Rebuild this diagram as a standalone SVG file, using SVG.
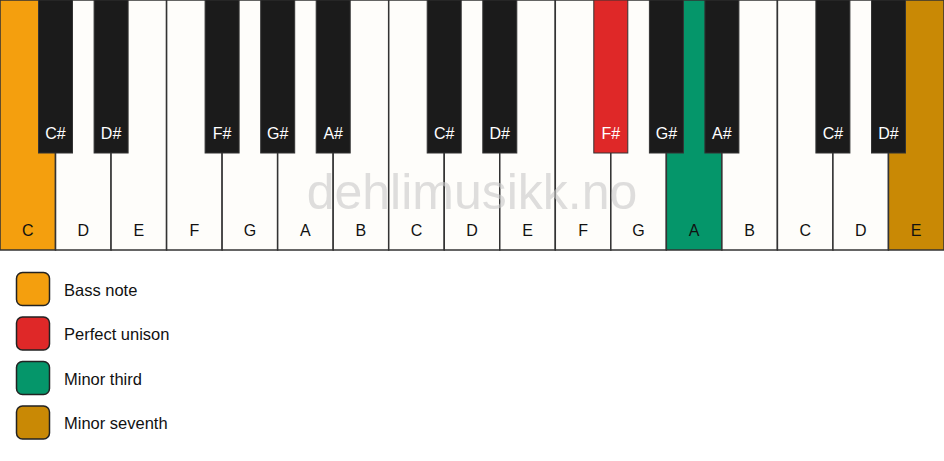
<svg xmlns="http://www.w3.org/2000/svg" width="944" height="461" viewBox="0 0 944 461">
<style>
.w{fill:#fefdfa;stroke:#333;stroke-width:1.5}
.b{fill:#1b1b1b;stroke:#333;stroke-width:1}
.wl{font-family:"Liberation Sans",Arial,sans-serif;font-size:16px;fill:#111;text-anchor:middle}
.bl{font-family:"Liberation Sans",Arial,sans-serif;font-size:16px;fill:#fff;text-anchor:middle}
.lg{font-family:"Liberation Sans",Arial,sans-serif;font-size:16.5px;fill:#111}
.sw{stroke:#222;stroke-width:1.5}
</style>
<rect width="944" height="461" fill="#ffffff"/>
<g id="white-keys">
<rect class="w" x="0" y="0" width="55.53" height="250" style="fill:#f49f0e"/>
<rect class="w" x="55.53" y="0" width="55.53" height="250"/>
<rect class="w" x="111.06" y="0" width="55.53" height="250"/>
<rect class="w" x="166.59" y="0" width="55.53" height="250"/>
<rect class="w" x="222.12" y="0" width="55.53" height="250"/>
<rect class="w" x="277.65" y="0" width="55.53" height="250"/>
<rect class="w" x="333.18" y="0" width="55.53" height="250"/>
<rect class="w" x="388.71" y="0" width="55.53" height="250"/>
<rect class="w" x="444.24" y="0" width="55.53" height="250"/>
<rect class="w" x="499.76" y="0" width="55.53" height="250"/>
<rect class="w" x="555.29" y="0" width="55.53" height="250"/>
<rect class="w" x="610.82" y="0" width="55.53" height="250"/>
<rect class="w" x="666.35" y="0" width="55.53" height="250" style="fill:#05966a"/>
<rect class="w" x="721.88" y="0" width="55.53" height="250"/>
<rect class="w" x="777.41" y="0" width="55.53" height="250"/>
<rect class="w" x="832.94" y="0" width="55.53" height="250"/>
<rect class="w" x="888.47" y="0" width="55.53" height="250" style="fill:#c98905"/>
</g>
<text x="472" y="209" font-family="'Liberation Sans',Arial,sans-serif" font-size="50" fill="#c8c8c8" fill-opacity="0.6" text-anchor="middle">dehlimusikk.no</text>
<g id="white-labels">
<text class="wl" x="27.8" y="236">C</text>
<text class="wl" x="83.3" y="236">D</text>
<text class="wl" x="138.8" y="236">E</text>
<text class="wl" x="194.4" y="236">F</text>
<text class="wl" x="249.9" y="236">G</text>
<text class="wl" x="305.4" y="236">A</text>
<text class="wl" x="360.9" y="236">B</text>
<text class="wl" x="416.5" y="236">C</text>
<text class="wl" x="472" y="236">D</text>
<text class="wl" x="527.5" y="236">E</text>
<text class="wl" x="583.1" y="236">F</text>
<text class="wl" x="638.6" y="236">G</text>
<text class="wl" x="694.1" y="236">A</text>
<text class="wl" x="749.6" y="236">B</text>
<text class="wl" x="805.2" y="236">C</text>
<text class="wl" x="860.7" y="236">D</text>
<text class="wl" x="916.2" y="236">E</text>
</g>
<g id="black-keys">
<rect class="b" x="38.5" y="0" width="34" height="153"/>
<rect class="b" x="94.1" y="0" width="34" height="153"/>
<rect class="b" x="205.1" y="0" width="34" height="153"/>
<rect class="b" x="260.7" y="0" width="34" height="153"/>
<rect class="b" x="316.2" y="0" width="34" height="153"/>
<rect class="b" x="427.2" y="0" width="34" height="153"/>
<rect class="b" x="482.8" y="0" width="34" height="153"/>
<rect class="b" x="593.8" y="0" width="34" height="153" style="fill:#df2828"/>
<rect class="b" x="649.4" y="0" width="34" height="153"/>
<rect class="b" x="704.9" y="0" width="34" height="153"/>
<rect class="b" x="815.9" y="0" width="34" height="153"/>
<rect class="b" x="871.5" y="0" width="34" height="153"/>
</g>
<g id="black-labels">
<text class="bl" x="55.5" y="139">C#</text>
<text class="bl" x="111.1" y="139">D#</text>
<text class="bl" x="222.1" y="139">F#</text>
<text class="bl" x="277.7" y="139">G#</text>
<text class="bl" x="333.2" y="139">A#</text>
<text class="bl" x="444.2" y="139">C#</text>
<text class="bl" x="499.8" y="139">D#</text>
<text class="bl" x="610.8" y="139">F#</text>
<text class="bl" x="666.4" y="139">G#</text>
<text class="bl" x="721.9" y="139">A#</text>
<text class="bl" x="832.9" y="139">C#</text>
<text class="bl" x="888.5" y="139">D#</text>
</g>
<g id="legend-bass">
<rect class="sw" x="16.5" y="272.5" width="33" height="33" rx="6" fill="#f49f0e"/>
<text class="lg" x="64" y="295.5">Bass note</text>
</g>
<g id="legend-unison">
<rect class="sw" x="16.5" y="317" width="33" height="33" rx="6" fill="#df2828"/>
<text class="lg" x="64" y="340">Perfect unison</text>
</g>
<g id="legend-third">
<rect class="sw" x="16.5" y="361.5" width="33" height="33" rx="6" fill="#05966a"/>
<text class="lg" x="64" y="384.5">Minor third</text>
</g>
<g id="legend-seventh">
<rect class="sw" x="16.5" y="406" width="33" height="33" rx="6" fill="#c98905"/>
<text class="lg" x="64" y="429">Minor seventh</text>
</g>
<g id="connectors"></g>
</svg>
